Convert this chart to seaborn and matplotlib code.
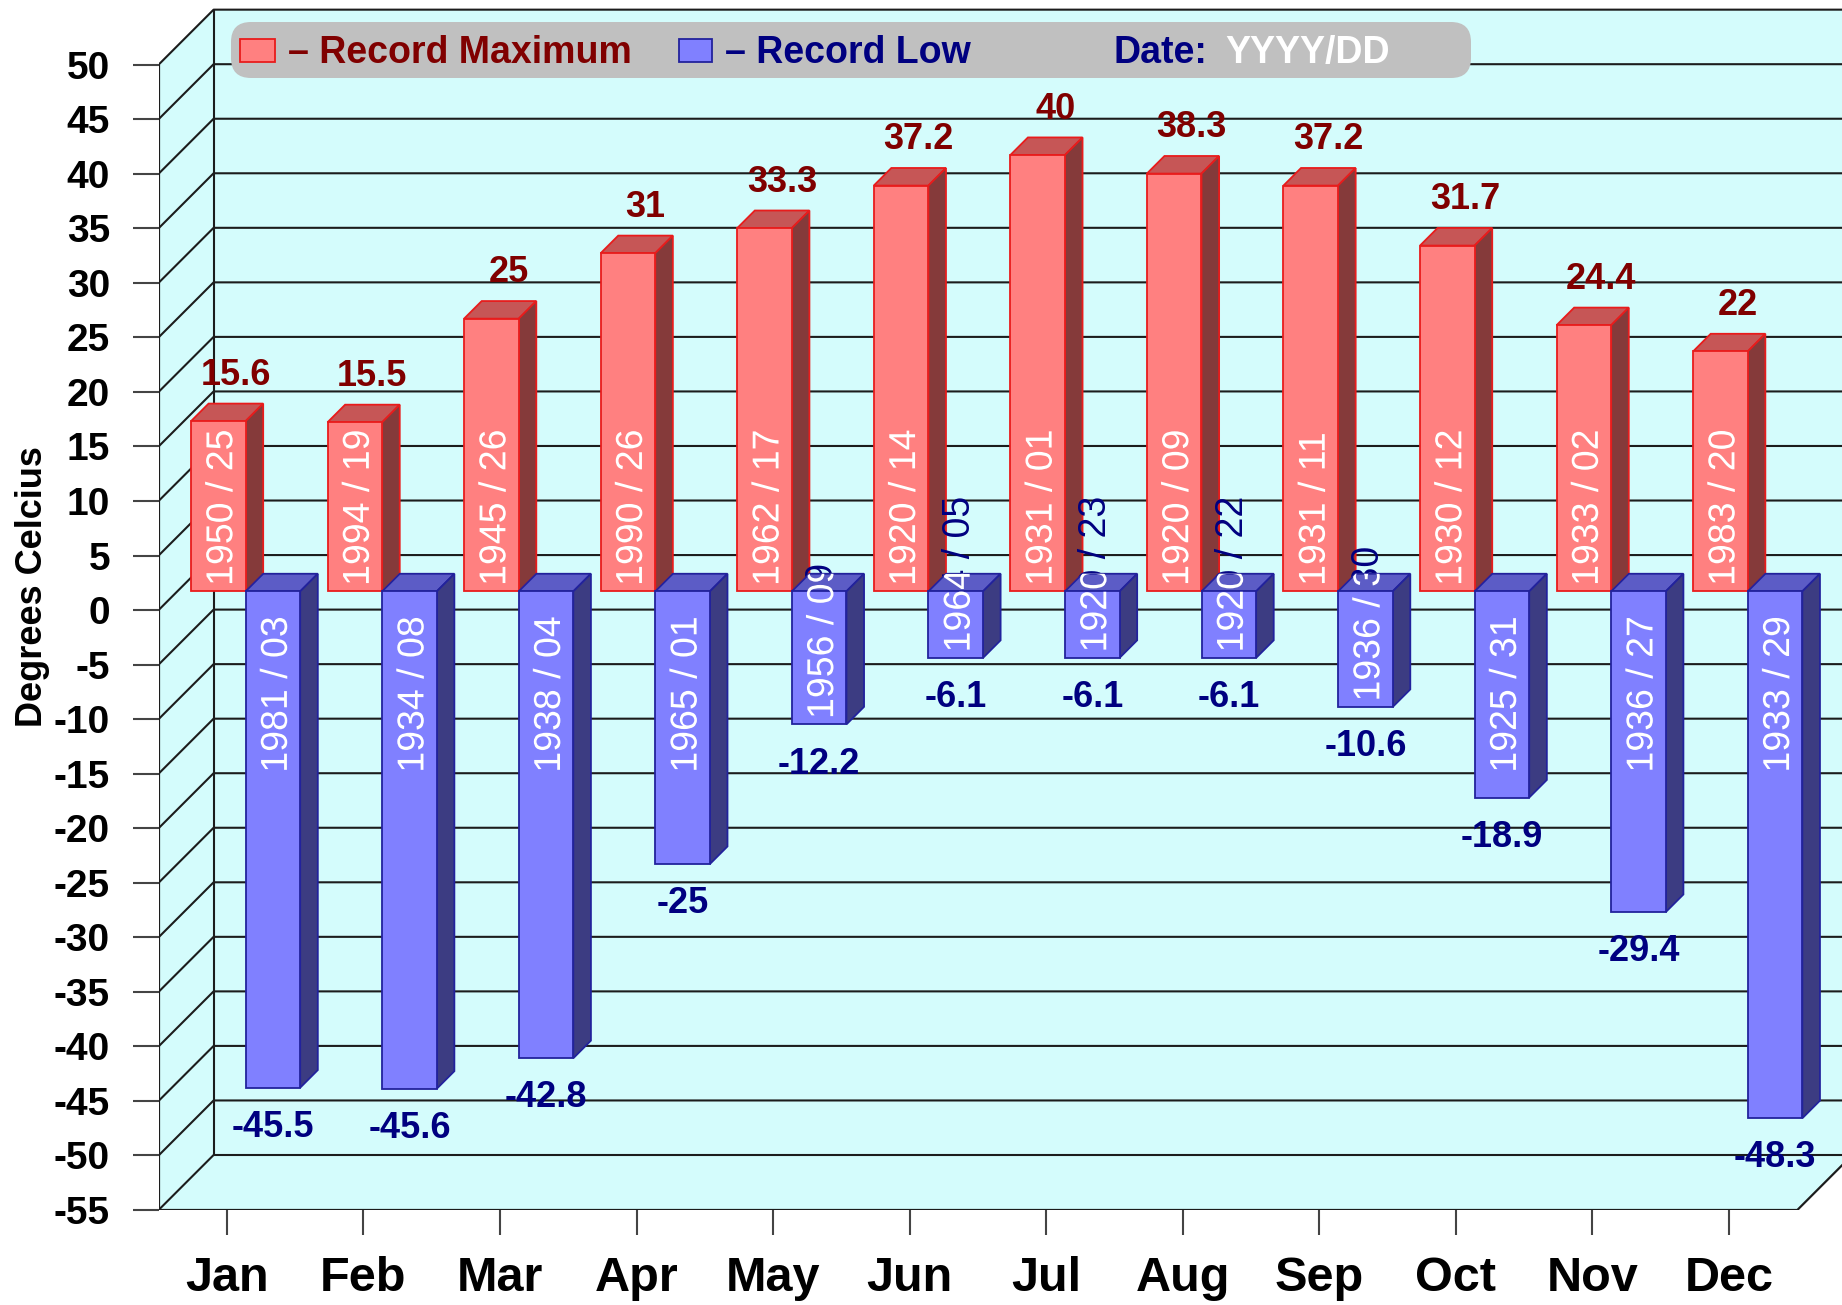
import matplotlib
matplotlib.use("Agg")
import matplotlib.pyplot as plt
import matplotlib.patheffects as pe
from matplotlib.patches import Polygon, Rectangle, FancyBboxPatch
import numpy as np
import pandas as pd
import seaborn as sns

# Data
months = ["Jan", "Feb", "Mar", "Apr", "May", "Jun",
          "Jul", "Aug", "Sep", "Oct", "Nov", "Dec"]
record_max = [15.6, 15.5, 25, 31, 33.3, 37.2, 40, 38.3, 37.2, 31.7, 24.4, 22]
record_low = [-45.5, -45.6, -42.8, -25, -12.2, -6.1, -6.1, -6.1, -10.6, -18.9, -29.4, -48.3]
max_dates = ["1950 / 25", "1994 / 19", "1945 / 26", "1990 / 26", "1962 / 17", "1920 / 14",
             "1931 / 01", "1920 / 09", "1931 / 11", "1930 / 12", "1933 / 02", "1983 / 20"]
low_dates = ["1981 / 03", "1934 / 08", "1938 / 04", "1965 / 01", "1956 / 09", "1964 / 05",
             "1920 / 23", "1920 / 22", "1936 / 30", "1925 / 31", "1936 / 27", "1933 / 29"]
series_names = ["Record Maximum", "Record Low"]
y_ticks = list(range(-55, 51, 5))

# Colours per series
face_colors = {"Record Maximum": "#ff8080", "Record Low": "#8080ff"}
edge_colors = {"Record Maximum": "#e81c1c", "Record Low": "#22229c"}
top_colors = {"Record Maximum": "#c65656", "Record Low": "#5c5cc6"}
side_colors = {"Record Maximum": "#853a3a", "Record Low": "#3c3c82"}
text_colors = {"Record Maximum": "#800000", "Record Low": "#000080"}
wall_color = "#d4fcfc"
grid_color = "#1c1c1c"

# Layout (pixels of the final image)
W, H, DPI = 1842, 1305, 100
LEFT_PX, BOTTOM_PX = 158.6, 95
PX_MONTH, PX_DEG = 136.56, 10.908
DEPTH_PX, BAR_DEPTH_PX = 55, 17.6

sns.set_theme(style="white")
plt.rcParams["font.family"] = ["Liberation Sans", "DejaVu Sans"]
plt.rcParams["axes.unicode_minus"] = False

df = pd.DataFrame({
    "month": months * 2,
    "temp": record_max + record_low,
    "series": [series_names[0]] * len(months) + [series_names[1]] * len(months),
})

fig = plt.figure(figsize=(W / DPI, H / DPI), dpi=DPI, facecolor="white")
ax = fig.add_axes([LEFT_PX / W, BOTTOM_PX / H, 1 - LEFT_PX / W, 1 - BOTTOM_PX / H])

sns.barplot(data=df, x="month", y="temp", hue="series", hue_order=series_names,
            palette=face_colors, saturation=1, width=0.8, dodge=True,
            errorbar=None, legend=False, ax=ax)

x_lo, x_hi = -0.5, len(months) - 0.5
y_lo, y_hi = y_ticks[0], y_ticks[-1]
ax.set_xlim(x_lo, x_lo + (W - LEFT_PX) / PX_MONTH)
ax.set_ylim(y_lo, y_lo + (H - BOTTOM_PX) / PX_DEG)
dx, dy = DEPTH_PX / PX_MONTH, DEPTH_PX / PX_DEG
bdx, bdy = BAR_DEPTH_PX / PX_MONTH, BAR_DEPTH_PX / PX_DEG
ox, oy = (dx - bdx) / 2, (dy - bdy) / 2

# 3D box: left wall, back wall, floor
wall = dict(facecolor=wall_color, edgecolor="none", zorder=0.5)
ax.add_patch(Polygon([(x_lo, y_lo), (x_lo, y_hi), (x_lo + dx, y_hi + dy), (x_lo + dx, y_lo + dy)], **wall))
ax.add_patch(Polygon([(x_lo + dx, y_lo + dy), (x_hi + dx, y_lo + dy), (x_hi + dx, y_hi + dy), (x_lo + dx, y_hi + dy)], **wall))
ax.add_patch(Polygon([(x_lo, y_lo), (x_hi, y_lo), (x_hi + dx, y_lo + dy), (x_lo + dx, y_lo + dy)], **wall))

for v in y_ticks:
    ax.plot([x_lo, x_lo + dx, x_hi + dx], [v, v + dy, v + dy], color=grid_color, lw=1.5, zorder=1)
ax.plot([x_lo + dx, x_lo + dx], [y_lo + dy, y_hi + dy], color=grid_color, lw=1.5, zorder=1)
ax.plot([x_lo, x_lo], [y_lo, y_hi], color=grid_color, lw=1.6, zorder=2)
ax.plot([x_lo, x_hi, x_hi + dx], [y_lo, y_lo, y_lo + dy], color=grid_color, lw=1.6, zorder=2)

# Turn the flat seaborn bars into 3D columns with labels
label_font = dict(fontsize=26, fontweight="bold")
date_font = dict(fontsize=27, rotation=90, rotation_mode="anchor", va="center_baseline")
fit_limit = 15
pad_base, pad_top = 0.5, 2.3

for name, container, values, dates in zip(series_names, ax.containers,
                                          [record_max, record_low], [max_dates, low_dates]):
    for bar, v, date in zip(container.patches, values, dates):
        bar.set_x(bar.get_x() + ox)
        bar.set_y(bar.get_y() + oy)
        x0 = bar.get_x()
        x1 = x0 + bar.get_width()
        ylo = min(bar.get_y(), bar.get_y() + bar.get_height())
        yhi = max(bar.get_y(), bar.get_y() + bar.get_height())
        xc = (x0 + x1) / 2
        zo = 3 + 0.1 * (x0 + 1)
        bar.set_edgecolor(edge_colors[name])
        bar.set_linewidth(1.3)
        bar.set_zorder(zo + 0.01)

        top = [(x0, yhi), (x1, yhi), (x1 + bdx, yhi + bdy), (x0 + bdx, yhi + bdy)]
        side = [(x1, ylo), (x1 + bdx, ylo + bdy), (x1 + bdx, yhi + bdy), (x1, yhi)]
        ax.add_patch(Polygon(top, facecolor=top_colors[name], edgecolor=edge_colors[name], lw=1.3, zorder=zo))
        ax.add_patch(Polygon(side, facecolor=side_colors[name], edgecolor=edge_colors[name], lw=1.3, zorder=zo))
        outline = Polygon([(x0, ylo), (x1, ylo), (x1 + bdx, ylo + bdy), (x1 + bdx, yhi + bdy),
                           (x0 + bdx, yhi + bdy), (x0, yhi)], transform=ax.transData)

        if v >= 0:
            ax.text(xc + bdx, yhi + bdy + 1.72, f"{v:g}", ha="center", va="baseline",
                    color=text_colors[name], zorder=12, **label_font)
            anchor_y, ha, fits = ylo + pad_base, "left", True
        else:
            ax.text(xc, ylo - 4.5, f"{v:g}", ha="center", va="baseline",
                    color=text_colors[name], zorder=12, **label_font)
            fits = abs(v) > fit_limit
            if fits:
                anchor_y, ha = yhi - pad_top, "right"
            else:
                anchor_y, ha = ylo + pad_base, "left"

        if not fits:
            # overflow part in series colour, hidden under the column itself
            ax.text(xc, anchor_y, date, ha=ha, color=text_colors[name], zorder=zo - 0.005, **date_font)
        # drawn as a path so the clip to the column outline is honoured
        t = ax.text(xc, anchor_y, date, ha=ha, color="white", zorder=11, clip_on=True,
                    path_effects=[pe.Normal()], **date_font)
        t.set_clip_path(outline)

# Axes ticks
for s in ax.spines.values():
    s.set_visible(False)
ax.patch.set_visible(False)
ax.set_yticks(y_ticks)
ax.set_yticklabels([str(t) for t in y_ticks])
ax.set_xlabel("")
ax.set_ylabel("")
ax.tick_params(axis="y", left=True, direction="out", length=19, width=1.5, color="#444444",
               pad=16, labelsize=28)
ax.tick_params(axis="x", bottom=True, direction="out", length=18, width=1.5, color="#444444",
               pad=15, labelsize=35)
for lab in ax.get_xticklabels() + ax.get_yticklabels():
    lab.set_fontweight("bold")
    lab.set_color("black")

fig.text(32 / W, 1 - 587 / H, "Degrees Celcius", rotation=90, ha="center", va="center",
         fontsize=26, fontweight="bold", color="black")

# Legend strip on the back wall
inch = fig.dpi_scale_trans
def px(x, y_from_top):
    return x / DPI, (H - y_from_top) / DPI

lx, ly = px(231, 78)
fig.patches.append(FancyBboxPatch((lx, ly), (1471 - 231) / DPI, (78 - 22) / DPI,
                                  boxstyle="round,pad=0,rounding_size=0.2",
                                  facecolor="#c0c0c0", edgecolor="none", transform=inch, zorder=1))
sx, sy = px(240, 62)
fig.patches.append(Rectangle((sx, sy), 35 / DPI, 23 / DPI, facecolor=face_colors[series_names[0]],
                             edgecolor=edge_colors[series_names[0]], lw=1.3, transform=inch, zorder=2))
sx, sy = px(679, 62)
fig.patches.append(Rectangle((sx, sy), 33 / DPI, 23 / DPI, facecolor=face_colors[series_names[1]],
                             edgecolor=edge_colors[series_names[1]], lw=1.3, transform=inch, zorder=2))
legend_items = [(288, "\u2013 " + series_names[0], text_colors[series_names[0]]),
                (725, "\u2013 " + series_names[1], text_colors[series_names[1]]),
                (1113, "Date:", text_colors[series_names[1]]),
                (1225, "YYYY/DD", "white")]
for x, s, c in legend_items:
    tx, ty = px(x, 63)
    fig.text(tx, ty, s, transform=inch, ha="left", va="baseline", fontsize=27,
             fontweight="bold", color=c, zorder=3)

fig.savefig("out.png", dpi=DPI, facecolor="white")
